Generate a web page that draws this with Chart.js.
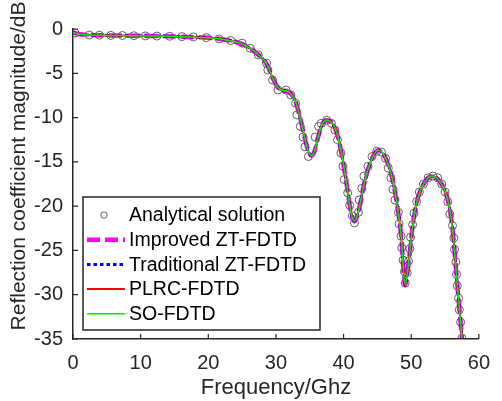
<!DOCTYPE html>
<html>
<head>
<meta charset="utf-8">
<script src="https://cdn.jsdelivr.net/npm/chart.js@4.4.0/dist/chart.umd.min.js"></script>
<style>
  html, body { margin: 0; padding: 0; background: #fff; }
  canvas { display: block; }
</style>
</head>
<body>
<canvas id="chart" width="502" height="401"></canvas>
<script>
// analytical solution (circles)
const analyticFreq = [0.3, 2.4, 3.9, 5.6, 7.3, 9.0, 10.7, 12.4, 14.3, 16.1, 17.8, 19.7, 21.6, 23.3, 25.0,
  26.2, 27.4, 28.6, 28.8, 29.5, 30.3, 31.5, 32.2, 32.9, 33.1, 33.6, 34.0, 34.3, 34.8,
  35.8, 36.3, 36.7, 37.5, 38.2, 38.7, 39.1, 39.6, 39.9, 40.1, 40.6, 40.9, 41.3, 41.6,
  42.2, 42.3, 42.7, 43.0, 43.6, 44.2, 44.9, 45.6, 46.2, 46.6, 47.0, 47.3, 47.6, 48.1, 48.2, 48.5, 48.6, 48.8, 49.0, 49.1,
  49.4, 49.6, 49.8, 49.9, 50.2, 50.4, 50.8, 51.2, 51.8, 52.5, 53.2, 53.9, 54.5, 55.0, 55.4, 55.7, 56.1, 56.3, 56.4, 56.6, 56.7, 56.8, 57.0, 57.1, 57.3, 57.5];
const analyticMag = [-0.45, -0.68, -0.7, -0.72, -0.74, -0.76, -0.78, -0.8, -0.82, -0.86, -0.9, -0.98, -1.12, -1.3, -1.6,
  -2.18, -2.94, -3.87, -4.63, -5.76, -6.89, -6.89, -7.45, -8.39, -9.7, -11.0, -12.2, -13.3, -14.4,
  -12.2, -11.0, -10.65, -10.3, -10.65, -11.4, -12.5, -14.0, -15.5, -17.0, -18.5, -19.9, -21.1, -21.9,
  -20.7, -19.3, -18.0, -16.6, -15.5, -14.4, -13.8, -13.9, -14.6, -15.7, -16.8, -18.1, -19.3, -20.7, -22.0, -23.4, -24.7, -26.1, -27.4, -28.7,
  -27.5, -26.2, -24.8, -23.5, -22.1, -20.8, -19.5, -18.4, -17.5, -16.8, -16.6, -16.8, -17.5, -18.4, -19.5, -20.9, -22.2, -23.6, -24.9, -26.3, -27.7, -29.0, -30.4, -31.7, -33.1, -34.9];

// simulated curves (the four FDTD schemes lie on top of each other)
const simFreq = [0, 1, 2.5, 5, 8, 11, 14, 17, 20, 22, 23.5, 25, 26.2, 27.4, 28.2, 28.8, 29.5, 30.3, 31, 31.6,
  32.2, 32.9, 33.5, 34.1, 34.7, 35.2, 35.7, 36.2, 36.8, 37.5, 38.3, 39.1, 39.8, 40.5, 41.1, 41.6,
  42.2, 43.0, 44.0, 45.1, 46.1, 47.1, 47.8, 48.5, 49.1, 49.6, 50.2, 50.9, 51.9, 53.1, 54.3, 55.3, 56.1, 56.8, 57.5];
const improvedZtMag = [-0.4, -0.6, -0.68, -0.72, -0.75, -0.78, -0.82, -0.9, -1.0, -1.15, -1.35, -1.7, -2.2, -2.9, -3.5, -4.2, -5.5, -6.6, -6.95, -7.0,
  -7.3, -8.2, -9.8, -11.8, -13.6, -14.3, -13.8, -12.3, -10.8, -10.3, -10.6, -12.0, -14.5, -17.8, -20.7, -21.7,
  -20.6, -17.6, -15.0, -13.7, -14.4, -16.6, -19.3, -23.3, -28.9, -26.5, -22.3, -19.3, -17.4, -16.6, -17.3, -19.0, -22.5, -28.8, -34.9];
const traditionalZtMag = improvedZtMag.slice();
const plrcMag = improvedZtMag.slice();
const soMag = improvedZtMag.slice();

const xTicks = [0, 10, 20, 30, 40, 50, 60];
const yTicks = [-35, -30, -25, -20, -15, -10, -5, 0];

const FONT = "'Liberation Sans', Arial, sans-serif";
const INK = '#262626';

function pts(xs, ys) {
  return xs.map((x, i) => ({ x: x, y: ys[i] }));
}

function lineSet(label, ys, color, width, dash, order) {
  return {
    label: label,
    data: pts(simFreq, ys),
    borderColor: color,
    borderWidth: width,
    borderDash: dash,
    pointRadius: 0,
    fill: false,
    cubicInterpolationMode: 'monotone',
    order: order,
  };
}

// inside tick marks, matlab style
const insideTicks = {
  id: 'insideTicks',
  afterDraw(chart) {
    const ctx = chart.ctx;
    const xs = chart.scales.x, ys = chart.scales.y;
    const a = chart.chartArea;
    ctx.save();
    ctx.strokeStyle = INK;
    ctx.lineWidth = 1.2;
    ctx.beginPath();
    xTicks.forEach(v => {
      const px = xs.getPixelForValue(v);
      ctx.moveTo(px, a.bottom);
      ctx.lineTo(px, a.bottom - 5);
    });
    yTicks.forEach(v => {
      const py = ys.getPixelForValue(v);
      ctx.moveTo(a.left, py);
      ctx.lineTo(a.left + 5, py);
    });
    ctx.stroke();

    // y axis title
    ctx.translate(19, 166);
    ctx.rotate(-Math.PI / 2);
    ctx.fillStyle = INK;
    ctx.font = '21px ' + FONT;
    ctx.textAlign = 'center';
    ctx.textBaseline = 'middle';
    ctx.fillText('Reflection coefficient magnitude/dB', 0, 0);
    ctx.restore();
  }
};

// boxed legend inside the axes, lower left
const boxLegend = {
  id: 'boxLegend',
  afterDraw(chart) {
    const ctx = chart.ctx;
    ctx.save();
    ctx.fillStyle = '#fff';
    ctx.fillRect(83, 197, 237, 133);
    ctx.strokeStyle = INK;
    ctx.lineWidth = 1.5;
    ctx.strokeRect(83, 197, 237, 133);
    ctx.font = '19.5px ' + FONT;
    ctx.textBaseline = 'middle';
    chart.data.datasets.forEach((ds, i) => {
      const y = 215 + i * 24.7;
      if (ds.showLine === false) {
        ctx.beginPath();
        ctx.setLineDash([]);
        ctx.lineWidth = 1;
        ctx.strokeStyle = ds.borderColor;
        ctx.arc(104, y, 3.2, 0, Math.PI * 2);
        ctx.stroke();
      } else {
        ctx.beginPath();
        ctx.setLineDash(ds.borderDash || []);
        ctx.lineWidth = ds.borderWidth;
        ctx.strokeStyle = ds.borderColor;
        ctx.moveTo(87, y);
        ctx.lineTo(125, y);
        ctx.stroke();
      }
      ctx.setLineDash([]);
      ctx.fillStyle = '#000';
      ctx.fillText(ds.label, 129, y + 1);
    });
    ctx.restore();
  }
};

const config = {
  type: 'line',
  data: {
    datasets: [
      {
        label: 'Analytical solution',
        data: pts(analyticFreq, analyticMag),
        showLine: false,
        pointStyle: 'circle',
        pointRadius: 4,
        pointBorderWidth: 1,
        borderColor: 'rgba(70, 70, 70, 0.85)',
        pointBorderColor: 'rgba(70, 70, 70, 0.85)',
        pointBackgroundColor: 'rgba(0, 0, 0, 0)',
        order: 5,
      },
      lineSet('Improved ZT-FDTD', improvedZtMag, '#ff00ff', 4.5, [13, 5], 4),
      lineSet('Traditional ZT-FDTD', traditionalZtMag, '#0000ff', 3, [3.5, 3], 3),
      lineSet('PLRC-FDTD', plrcMag, '#ff0000', 2, [], 2),
      lineSet('SO-FDTD', soMag, '#00ee00', 1.5, [], 1),
    ],
  },
  options: {
    responsive: false,
    animation: false,
    events: [],
    layout: { padding: { left: 0, right: 12, top: 29, bottom: 0 } },
    plugins: {
      legend: { display: false },
      tooltip: { enabled: false },
    },
    scales: {
      x: {
        type: 'linear',
        min: 0,
        max: 60,
        afterFit: s => { s.height = 62; },
        afterBuildTicks: s => { s.ticks = xTicks.map(v => ({ value: v })); },
        grid: { display: true, drawOnChartArea: false, drawTicks: false },
        border: { display: true, color: INK, width: 1.5 },
        ticks: { color: INK, font: { family: FONT, size: 20 }, padding: 12, maxRotation: 0 },
        title: { display: true, text: 'Frequency/Ghz', color: INK, font: { family: FONT, size: 22 }, padding: 0 },
      },
      y: {
        type: 'linear',
        min: -35,
        max: 0,
        afterFit: s => { s.width = 73; },
        afterBuildTicks: s => { s.ticks = yTicks.map(v => ({ value: v })); },
        grid: { display: true, drawOnChartArea: false, drawTicks: false },
        border: { display: true, color: INK, width: 1.5 },
        ticks: { color: INK, font: { family: FONT, size: 20 }, padding: 10 },
      },
    },
  },
  plugins: [insideTicks, boxLegend],
};

new Chart(document.getElementById('chart').getContext('2d'), config);
</script>
</body>
</html>
